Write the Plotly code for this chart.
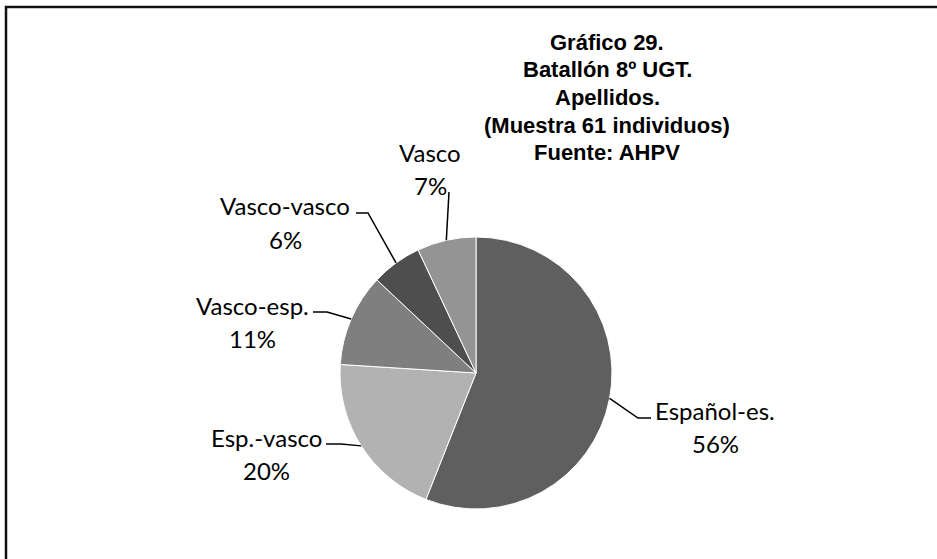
import math
import plotly.graph_objects as go

# ---- data ----
categories = ["Español-es.", "Esp.-vasco", "Vasco-esp.", "Vasco-vasco", "Vasco"]
percentages = [56, 20, 11, 6, 7]
slice_colors = ["#5f5f5f", "#b2b2b2", "#7f7f7f", "#4e4e4e", "#949494"]
title_lines = ["Gráfico 29.", "Batallón 8º UGT.", "Apellidos.", "(Muestra 61 individuos)", "Fuente: AHPV"]

W, H = 937, 559
# pie placement (pixels)
CX, CY, R = 476, 373, 136

# label layout (pixel centres of the name line, percent line below) and leader elbows
label_pos = {
    "Español-es.": dict(x=715, y=410, elbow=(638, 418), end=(651, 418)),
    "Esp.-vasco": dict(x=266, y=437, elbow=(341, 444), end=(326, 444)),
    "Vasco-esp.": dict(x=252, y=305, elbow=(327, 312), end=(313, 312)),
    "Vasco-vasco": dict(x=285, y=206, elbow=(368, 213), end=(356, 213)),
    "Vasco": dict(x=430, y=152, elbow=None, end=(449, 192)),
}
LINE_GAP = 33


def px(x):
    return x / W


def py(y):
    return 1 - y / H


fig = go.Figure(go.Pie(
    labels=categories,
    values=percentages,
    sort=False,
    direction="clockwise",
    rotation=0,
    marker=dict(colors=slice_colors, line=dict(color="#ffffff", width=1)),
    textinfo="none",
    hoverinfo="skip",
    domain=dict(x=[px(CX - R), px(CX + R)], y=[py(CY + R), py(CY - R)]),
    showlegend=False,
))

annotations = []
shapes = []
label_font = dict(family="Lato, Open Sans, sans-serif", size=24, color="#000000")

total = sum(percentages)
cum = 0
for cat, val in zip(categories, percentages):
    mid = (cum + val / 2) / total * 2 * math.pi
    cum += val
    ex = CX + R * math.sin(mid)
    ey = CY - R * math.cos(mid)
    lp = label_pos[cat]
    annotations.append(dict(x=px(lp["x"]), y=py(lp["y"]), xref="paper", yref="paper",
                            text=cat, showarrow=False, font=label_font,
                            xanchor="center", yanchor="middle"))
    annotations.append(dict(x=px(lp["x"]), y=py(lp["y"] + LINE_GAP), xref="paper", yref="paper",
                            text=f"{round(val)}%", showarrow=False, font=label_font,
                            xanchor="center", yanchor="middle"))
    pts = [(ex, ey)]
    if lp["elbow"] is not None:
        pts.append(lp["elbow"])
    pts.append(lp["end"])
    path = "M " + " L ".join(f"{px(a)},{py(b)}" for a, b in pts)
    shapes.append(dict(type="path", path=path, xref="paper", yref="paper",
                       line=dict(color="#000000", width=1.5)))

# title block
for i, t in enumerate(title_lines):
    annotations.append(dict(x=px(607), y=py(42 + i * 27.7), xref="paper", yref="paper",
                            text=f"<b>{t}</b>", showarrow=False,
                            font=dict(family="Liberation Sans, Arial, sans-serif", size=22, color="#000000"),
                            xanchor="center", yanchor="middle"))

# outer chart border (top and left visible, continues beyond the picture)
shapes.append(dict(type="rect", xref="paper", yref="paper",
                   x0=px(6), x1=1.02, y0=-0.02, y1=py(7),
                   line=dict(color="#111111", width=2.5), fillcolor="rgba(0,0,0,0)"))

fig.update_layout(
    width=W, height=H,
    margin=dict(l=0, r=0, t=0, b=0),
    paper_bgcolor="#ffffff",
    plot_bgcolor="#ffffff",
    annotations=annotations,
    shapes=shapes,
)

fig.write_html("out.html",
               config={"displayModeBar": False, "staticPlot": True},
               post_script="document.body.style.margin='0';document.body.style.padding='0';document.body.style.overflow='hidden';")
